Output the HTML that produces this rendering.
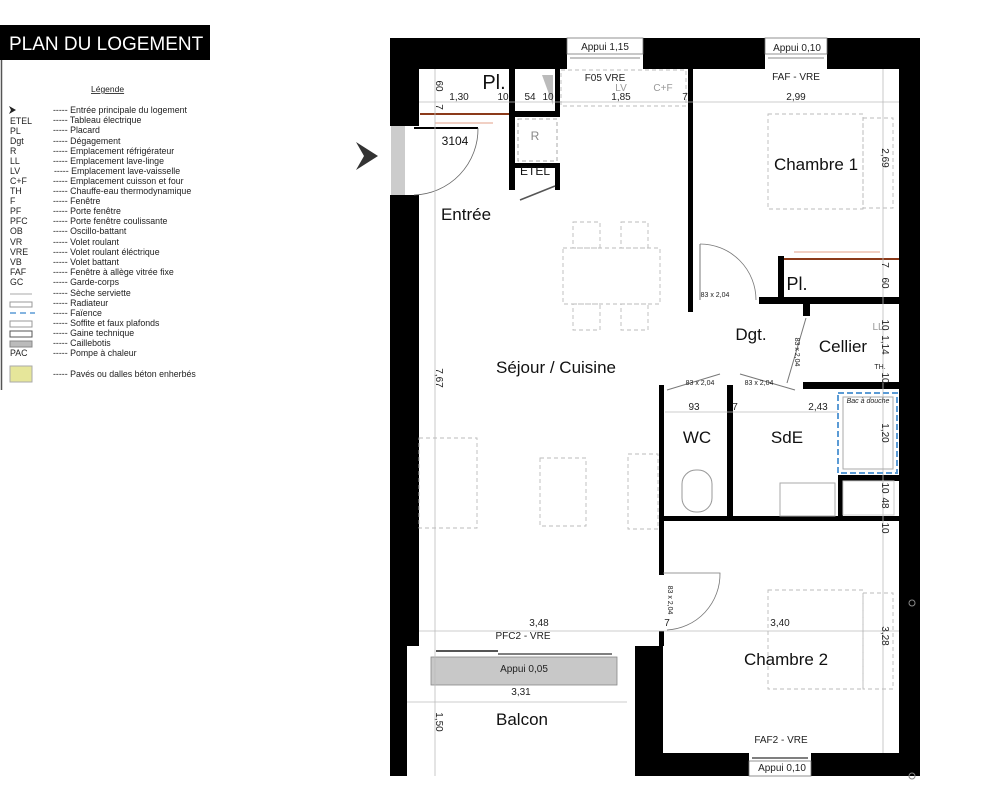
<!DOCTYPE html>
<html><head><meta charset="utf-8"><style>
body{margin:0;background:#fff}
svg{display:block}
text{font-family:"Liberation Sans",sans-serif}
</style></head><body>
<svg width="1001" height="800" viewBox="0 0 1001 800" xmlns="http://www.w3.org/2000/svg">
<rect width="1001" height="800" fill="#fff"/>
<rect x="0" y="25" width="210" height="35" fill="#000"/>
<text x="9" y="50" font-size="19" fill="#fff">PLAN DU LOGEMENT</text>
<line x1="1.5" y1="60" x2="1.5" y2="390" stroke="#555" stroke-width="1.5"/>
<text x="91" y="92" font-size="8.5" fill="#222" text-decoration="underline">Légende</text>
<g font-size="8.8" fill="#222">
<path d="M9,106 L16,110 L9,114 L11,110Z" fill="#222"/>
<text x="10" y="124">ETEL</text><text x="10" y="134">PL</text><text x="10" y="144">Dgt</text><text x="10" y="154">R</text><text x="10" y="164">LL</text><text x="10" y="174">LV</text><text x="10" y="184">C+F</text><text x="10" y="194">TH</text><text x="10" y="204">F</text><text x="10" y="214">PF</text><text x="10" y="224">PFC</text><text x="10" y="234">OB</text><text x="10" y="245">VR</text><text x="10" y="255">VRE</text><text x="10" y="265">VB</text><text x="10" y="275">FAF</text><text x="10" y="285">GC</text><text x="10" y="356">PAC</text>
<text x="53" y="113">----- Entrée principale du logement</text>
<text x="53" y="123">----- Tableau électrique</text>
<text x="53" y="133">----- Placard</text>
<text x="53" y="144">----- Dégagement</text>
<text x="53" y="154">----- Emplacement réfrigérateur</text>
<text x="53" y="164">----- Emplacement lave-linge</text>
<text x="54" y="174">----- Emplacement lave-vaisselle</text>
<text x="53" y="184">----- Emplacement cuisson et four</text>
<text x="53" y="194">----- Chauffe-eau thermodynamique</text>
<text x="53" y="204">----- Fenêtre</text>
<text x="53" y="214">----- Porte fenêtre</text>
<text x="53" y="224">----- Porte fenêtre coulissante</text>
<text x="53" y="234">----- Oscillo-battant</text>
<text x="53" y="245">----- Volet roulant</text>
<text x="53" y="255">----- Volet roulant éléctrique</text>
<text x="53" y="265">----- Volet battant</text>
<text x="53" y="275">----- Fenêtre à allège vitrée fixe</text>
<text x="53" y="285">----- Garde-corps</text>
<text x="53" y="296">----- Sèche serviette</text>
<text x="53" y="306">----- Radiateur</text>
<text x="53" y="316">----- Faïence</text>
<text x="53" y="326">----- Soffite et faux plafonds</text>
<text x="53" y="336">----- Gaine technique</text>
<text x="53" y="346">----- Caillebotis</text>
<text x="53" y="356">----- Pompe à chaleur</text>
<text x="53" y="377">----- Pavés ou dalles béton enherbés</text>
</g>
<line x1="10" y1="294" x2="32" y2="294" stroke="#aaa"/>
<rect x="10" y="302" width="22" height="5" fill="none" stroke="#999"/>
<line x1="10" y1="313" x2="35" y2="313" stroke="#5b9bd5" stroke-width="1.5" stroke-dasharray="6,4"/>
<rect x="10" y="321" width="22" height="6" fill="none" stroke="#999"/>
<rect x="10" y="331" width="22" height="6" fill="none" stroke="#555"/>
<rect x="10" y="341" width="22" height="6" fill="#bbb" stroke="#888"/>
<rect x="10" y="366" width="22" height="16" fill="#e6e69a" stroke="#aaa"/>

<path d="M356,142 L378,156 L356,170 L364,156Z" fill="#333"/>

<g fill="#000">
<rect x="390" y="38" width="530" height="31"/>
<rect x="390" y="38" width="29" height="738"/>
<rect x="899" y="38" width="21" height="738"/>
<rect x="419" y="646" width="244" height="30"/>
<rect x="627" y="646" width="36" height="130"/>
<rect x="663" y="753" width="236" height="23"/>
<rect x="659" y="385" width="5" height="190"/>
<rect x="659" y="631" width="5" height="15"/>
<rect x="659" y="516" width="240" height="5"/>
<rect x="688" y="69" width="5" height="243"/>
<rect x="759" y="297" width="140" height="7"/>
<rect x="778" y="256" width="6" height="45"/>
<rect x="509" y="69" width="6" height="121"/>
<rect x="515" y="111" width="45" height="6"/>
<rect x="555" y="69" width="5" height="48"/>
<rect x="515" y="163" width="45" height="5"/>
<rect x="555" y="163" width="5" height="27"/>
<rect x="803" y="304" width="7" height="12"/>
<rect x="803" y="382" width="96" height="7"/>
<rect x="727" y="385" width="6" height="132"/>
<rect x="838" y="475" width="61" height="6"/>
<rect x="838" y="475" width="5" height="42"/>
</g>
<rect x="567" y="38" width="76" height="31" fill="#fff"/>
<rect x="567" y="38" width="76" height="16" fill="#fff" stroke="#777" stroke-width="0.8"/>
<line x1="570" y1="58" x2="640" y2="58" stroke="#888"/>
<rect x="765" y="38" width="62" height="31" fill="#fff"/>
<rect x="765" y="38" width="62" height="16" fill="#fff" stroke="#777" stroke-width="0.8"/>
<line x1="768" y1="58" x2="824" y2="58" stroke="#888"/>
<rect x="390" y="126" width="29" height="69" fill="#fff"/>
<rect x="391" y="126" width="14" height="69" fill="#ccc"/>
<rect x="407" y="646" width="228" height="130" fill="#fff"/>
<rect x="431" y="646" width="186" height="13" fill="#fff"/>
<rect x="431" y="657" width="186" height="28" fill="#c8c8c8" stroke="#888" stroke-width="0.8"/>
<line x1="436" y1="651" x2="498" y2="651" stroke="#555" stroke-width="2"/>
<line x1="498" y1="654" x2="612" y2="654" stroke="#555" stroke-width="1.5"/>
<rect x="749" y="753" width="62" height="23" fill="#fff"/>
<rect x="749" y="761" width="62" height="15" fill="#fff" stroke="#777" stroke-width="0.8"/>
<line x1="752" y1="758" x2="808" y2="758" stroke="#555" stroke-width="1.5"/>

<rect x="518" y="119" width="39" height="42" fill="none" stroke="#aaa" stroke-dasharray="4,3"/>
<rect x="515" y="168" width="40" height="17" fill="#fff"/>
<path d="M542,75 L553,75 L553,105Z" fill="#bbb"/>
<line x1="420" y1="114" x2="509" y2="114" stroke="#8b3a1a" stroke-width="2"/>
<line x1="784" y1="259" x2="899" y2="259" stroke="#8b3a1a" stroke-width="2"/>
<line x1="435" y1="123" x2="493" y2="123" stroke="#e3a08a"/>
<line x1="794" y1="252" x2="880" y2="252" stroke="#e3a08a"/>
<line x1="414" y1="128" x2="478" y2="128" stroke="#000" stroke-width="2"/>
<path d="M414,195 A66,66 0 0 0 478,128" fill="none" stroke="#666" stroke-width="0.8"/>
<line x1="520" y1="200" x2="555" y2="186" stroke="#555" stroke-width="1.5"/>
<path d="M700,244 A56,56 0 0 1 756,300" fill="none" stroke="#777" stroke-width="0.8"/>
<line x1="700" y1="244" x2="700" y2="300" stroke="#777"/>
<path d="M663,573 L720,573 A56,56 0 0 1 667,630" fill="none" stroke="#777" stroke-width="0.8"/>
<line x1="667" y1="390" x2="720" y2="374" stroke="#777"/>
<line x1="740" y1="374" x2="795" y2="390" stroke="#777"/>
<line x1="806" y1="318" x2="787" y2="383" stroke="#777"/>
<g stroke="#bbb" stroke-width="0.8">
<line x1="419" y1="102" x2="899" y2="102"/>
<line x1="883" y1="69" x2="883" y2="753"/>
<line x1="435" y1="69" x2="435" y2="776"/>
<line x1="419" y1="631" x2="899" y2="631"/>
<line x1="665" y1="412" x2="838" y2="412"/>
<line x1="407" y1="702" x2="627" y2="702"/>
</g>
<g fill="none" stroke="#bbb" stroke-dasharray="4,3" stroke-width="0.9">
<rect x="563" y="248" width="97" height="56"/>
<rect x="573" y="222" width="27" height="26"/><rect x="621" y="222" width="27" height="26"/>
<rect x="573" y="304" width="27" height="26"/><rect x="621" y="304" width="27" height="26"/>
<rect x="540" y="458" width="46" height="68"/>
<rect x="628" y="454" width="30" height="75"/>
<rect x="419" y="438" width="58" height="90"/>
<rect x="768" y="114" width="95" height="95"/>
<rect x="863" y="118" width="30" height="90"/>
<rect x="768" y="590" width="95" height="99"/>
<rect x="863" y="593" width="30" height="96"/>
<rect x="561" y="70" width="125" height="36"/>
</g>
<rect x="838" y="393" width="59" height="80" fill="none" stroke="#5b9bd5" stroke-width="2" stroke-dasharray="6,3"/>
<rect x="843" y="397" width="50" height="72" fill="none" stroke="#aaa"/>
<rect x="682" y="470" width="30" height="42" rx="14" fill="none" stroke="#999"/>
<rect x="780" y="483" width="55" height="33" fill="none" stroke="#aaa"/>
<rect x="843" y="481" width="51" height="34" fill="none" stroke="#ccc"/>

<g fill="#111" text-anchor="middle">
<text x="494" y="89" font-size="20">Pl.</text>
<text x="455" y="145" font-size="12">3104</text>
<text x="535" y="140" font-size="12" fill="#888">R</text>
<text x="535" y="175" font-size="12">ETEL</text>
<text x="466" y="220" font-size="17">Entrée</text>
<text x="816" y="170" font-size="17">Chambre 1</text>
<text x="797" y="290" font-size="18">Pl.</text>
<text x="751" y="340" font-size="17">Dgt.</text>
<text x="843" y="352" font-size="17">Cellier</text>
<text x="556" y="373" font-size="17">Séjour / Cuisine</text>
<text x="697" y="443" font-size="17">WC</text>
<text x="787" y="443" font-size="17">SdE</text>
<text x="786" y="665" font-size="17">Chambre 2</text>
<text x="522" y="725" font-size="17">Balcon</text>
</g>
<g fill="#222" text-anchor="middle" font-size="10">
<text x="605" y="50">Appui 1,15</text>
<text x="797" y="51">Appui 0,10</text>
<text x="605" y="81">F05 VRE</text>
<text x="796" y="80">FAF - VRE</text>
<text x="621" y="91" fill="#999">LV</text>
<text x="663" y="91" fill="#999">C+F</text>
<text x="459" y="100">1,30</text><text x="503" y="100">10</text><text x="530" y="100">54</text><text x="548" y="100">10</text>
<text x="621" y="100">1,85</text><text x="685" y="100">7</text><text x="796" y="100">2,99</text>
<text x="694" y="410">93</text><text x="735" y="410">7</text><text x="818" y="410">2,43</text>
<text x="539" y="626">3,48</text><text x="667" y="626">7</text><text x="780" y="626">3,40</text>
<text x="523" y="639">PFC2 - VRE</text>
<text x="524" y="672">Appui 0,05</text>
<text x="521" y="695">3,31</text>
<text x="781" y="743">FAF2 - VRE</text>
<text x="782" y="771">Appui 0,10</text>
<text x="880" y="369" font-size="7">TH.</text>
<text x="878" y="330" fill="#999">LL</text>
<text x="868" y="403" font-size="7" font-style="italic">Bac à douche</text>
</g>
<g fill="#222" font-size="7" text-anchor="middle">
<text x="715" y="297">83 x 2,04</text>
<text x="700" y="385">83 x 2,04</text>
<text x="759" y="385">83 x 2,04</text>
<text transform="translate(795,352) rotate(90)">83 x 2,04</text>
<text transform="translate(668,600) rotate(90)">83 x 2,04</text>
</g>
<g fill="#222" font-size="10" text-anchor="middle">
<text transform="translate(436,86) rotate(90)">60</text>
<text transform="translate(436,107) rotate(90)">7</text>
<text transform="translate(436,378) rotate(90)">7,67</text>
<text transform="translate(436,722) rotate(90)">1,50</text>
<text transform="translate(882,158) rotate(90)">2,69</text>
<text transform="translate(882,265) rotate(90)">7</text>
<text transform="translate(882,283) rotate(90)">60</text>
<text transform="translate(882,325) rotate(90)">10</text>
<text transform="translate(882,345) rotate(90)">1,14</text>
<text transform="translate(882,378) rotate(90)">10</text>
<text transform="translate(882,433) rotate(90)">1,20</text>
<text transform="translate(882,488) rotate(90)">10</text>
<text transform="translate(882,503) rotate(90)">48</text>
<text transform="translate(882,528) rotate(90)">10</text>
<text transform="translate(882,636) rotate(90)">3,28</text>
</g>
<circle cx="912" cy="603" r="3" fill="none" stroke="#888"/>
<circle cx="912" cy="776" r="3" fill="none" stroke="#888"/>
</svg>
</body></html>
